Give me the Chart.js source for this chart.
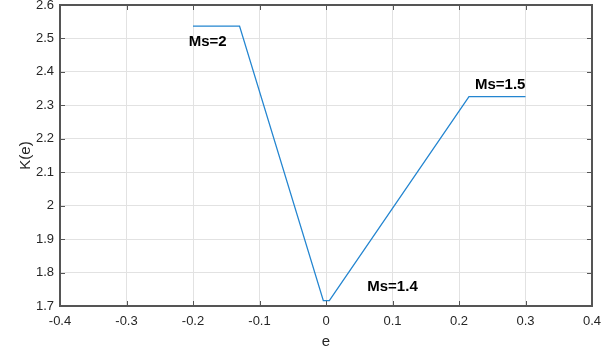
<!DOCTYPE html>
<html>
    <head>
        <title>K(e)</title>
        <script src="https://cdn.jsdelivr.net/npm/chart.js"></script>
        <style>
         body { margin: 0; background: #ffffff; }
         #box { width: 609px; height: 353px; position: relative; }
        </style>
    </head>
    <body>
        <div id="box"><canvas id="kChart" width="609" height="353"></canvas></div>
        <script>
        // curve K(e)
        const eValues = [-0.2, -0.13, -0.004, 0.005, 0.215, 0.3];
        const kValues = [2.537, 2.537, 1.716, 1.716, 2.326, 2.326];

        // tick labels
        const xTicks = [-0.4, -0.3, -0.2, -0.1, 0, 0.1, 0.2, 0.3, 0.4];
        const yTicks = [1.7, 1.8, 1.9, 2, 2.1, 2.2, 2.3, 2.4, 2.5, 2.6];

        // text notes (data coords)
        const noteText = ['Ms=2', 'Ms=1.4', 'Ms=1.5'];
        const noteX = [-0.178, 0.1, 0.262];
        const noteY = [2.49, 1.756, 2.362];

        const axisColor = '#555555';

        const boxPlugin = {
            id: 'boxPlugin',
            afterDraw(chart) {
                const ctx = chart.ctx;
                const a = chart.chartArea;
                const xs = chart.scales.x, ys = chart.scales.y;
                ctx.save();
                ctx.strokeStyle = axisColor;
                ctx.lineWidth = 2;
                ctx.beginPath();
                ctx.rect(a.left, a.top, a.right - a.left, a.bottom - a.top);
                ctx.stroke();
                ctx.lineWidth = 1;
                ctx.beginPath();
                xTicks.forEach(v => {
                    const px = Math.round(xs.getPixelForValue(v)) + 0.5;
                    ctx.moveTo(px, a.bottom); ctx.lineTo(px, a.bottom - 5);
                    ctx.moveTo(px, a.top); ctx.lineTo(px, a.top + 5);
                });
                yTicks.forEach(v => {
                    const py = Math.round(ys.getPixelForValue(v)) + 0.5;
                    ctx.moveTo(a.left, py); ctx.lineTo(a.left + 5, py);
                    ctx.moveTo(a.right, py); ctx.lineTo(a.right - 5, py);
                });
                ctx.stroke();
                ctx.fillStyle = '#000000';
                ctx.font = 'bold 15px "Liberation Sans", Arial, sans-serif';
                ctx.textAlign = 'center';
                ctx.textBaseline = 'middle';
                noteText.forEach((t, i) => {
                    ctx.fillText(t, xs.getPixelForValue(noteX[i]), ys.getPixelForValue(noteY[i]));
                });
                ctx.restore();
            }
        };

        const tickFont = { family: '"Liberation Sans", Arial, sans-serif', size: 13 };
        const titleFont = { family: '"Liberation Sans", Arial, sans-serif', size: 15 };

        new Chart(document.getElementById('kChart').getContext('2d'), {
            type: 'scatter',
            data: {
                datasets: [{
                    data: eValues.map((e, i) => ({ x: e, y: kValues[i] })),
                    showLine: true,
                    borderColor: '#2385d0',
                    borderWidth: 1.3,
                    pointRadius: 0,
                    fill: false
                }]
            },
            options: {
                responsive: false,
                animation: false,
                layout: { padding: { top: 5, right: 17, left: 0, bottom: 0 } },
                plugins: { legend: { display: false }, tooltip: { enabled: false } },
                scales: {
                    x: {
                        type: 'linear',
                        min: -0.4, max: 0.4,
                        afterBuildTicks: s => { s.ticks = xTicks.map(v => ({ value: v })); },
                        afterFit: s => { s.height = 47; s.paddingLeft = 0; s.paddingRight = 0; },
                        ticks: { color: '#262626', font: tickFont, padding: 8, maxRotation: 0, callback: v => String(v) },
                        grid: { color: '#e2e2e2', lineWidth: 1, drawTicks: false },
                        border: { display: false },
                        title: { display: true, text: 'e', color: '#262626', font: titleFont, padding: 2 }
                    },
                    y: {
                        type: 'linear',
                        min: 1.7, max: 2.6,
                        afterBuildTicks: s => { s.ticks = yTicks.map(v => ({ value: v })); },
                        afterFit: s => { s.width = 60; s.paddingTop = 0; s.paddingBottom = 0; },
                        ticks: { color: '#262626', font: tickFont, padding: 6, callback: v => String(v) },
                        grid: { color: '#e2e2e2', lineWidth: 1, drawTicks: false },
                        border: { display: false },
                        title: { display: true, text: 'K(e)', color: '#262626', font: titleFont, padding: 17 }
                    }
                }
            },
            plugins: [boxPlugin]
        });
        </script>
    </body>
</html>
